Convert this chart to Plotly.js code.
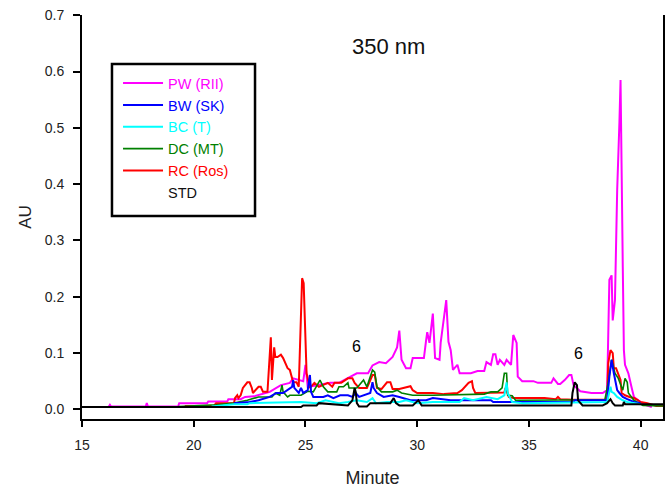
<!DOCTYPE html>
<html>
<head>
<meta charset="utf-8">
<script src="https://cdn.plot.ly/plotly-3.0.1.min.js"></script>
<style>html,body{margin:0;padding:0;background:#fff;}#chart{width:669px;height:496px;}</style>
</head>
<body>
<div id="chart"></div>
<script>
// Series names (legend text)
const seriesNames = ["PW (RII)", "BW (SK)", "BC (T)", "DC (MT)", "RC (Ros)", "STD"];

// [minute, AU] pairs
const pwPoints = [[16.2,0.005],[16.25,0.008],[16.3,0.005],[16.7,0.005],[17.85,0.005],[17.9,0.011],[17.95,0.005],[19.3,0.005],[19.35,0.011],[20.6,0.011],[20.65,0.014],[21.5,0.014],[21.55,0.018],[22.1,0.018],[22.3,0.022],[22.7,0.023],[23.4,0.031],[23.9,0.043],[24.3,0.047],[24.45,0.055],[24.9,0.05],[25.0,0.079],[25.1,0.04],[25.4,0.042],[26.1,0.047],[26.5,0.047],[26.9,0.055],[27.3,0.064],[27.8,0.064],[28.0,0.078],[28.3,0.084],[28.6,0.082],[28.9,0.093],[29.1,0.11],[29.2,0.14],[29.3,0.088],[29.5,0.073],[29.7,0.073],[29.8,0.091],[30.3,0.091],[30.4,0.123],[30.45,0.137],[30.55,0.118],[30.7,0.17],[30.8,0.091],[31.0,0.088],[31.05,0.118],[31.3,0.194],[31.4,0.12],[31.5,0.105],[31.6,0.07],[31.8,0.079],[31.9,0.064],[32.4,0.064],[32.7,0.068],[33.0,0.068],[33.1,0.084],[33.3,0.079],[33.4,0.098],[33.5,0.098],[33.6,0.079],[33.7,0.088],[33.9,0.079],[34.0,0.088],[34.2,0.079],[34.3,0.132],[34.45,0.118],[34.5,0.058],[34.7,0.05],[35.2,0.05],[35.4,0.047],[36.0,0.047],[36.1,0.055],[36.3,0.045],[36.4,0.045],[36.6,0.052],[36.8,0.061],[36.9,0.061],[37.0,0.043],[37.3,0.032],[37.8,0.029],[38.3,0.029],[38.5,0.034],[38.6,0.23],[38.7,0.238],[38.75,0.158],[38.85,0.194],[38.95,0.39],[39.05,0.51],[39.1,0.585],[39.2,0.253],[39.25,0.105],[39.3,0.079],[39.45,0.064],[39.6,0.038],[39.7,0.022],[40.0,0.013],[40.2,0.008],[40.5,0.004]];

const bwPoints = [[21.8,0.011],[22.5,0.013],[22.9,0.016],[23.4,0.022],[23.7,0.029],[24.0,0.029],[24.4,0.04],[24.45,0.052],[24.5,0.038],[24.7,0.029],[24.8,0.038],[24.9,0.029],[25.1,0.034],[25.2,0.061],[25.25,0.031],[25.35,0.022],[25.8,0.022],[26.0,0.025],[26.25,0.02],[26.55,0.025],[26.9,0.025],[27.1,0.022],[27.25,0.029],[27.4,0.022],[27.9,0.029],[28.0,0.048],[28.05,0.038],[28.2,0.029],[28.5,0.022],[28.9,0.025],[29.2,0.022],[29.7,0.016],[30.4,0.016],[30.7,0.02],[31.5,0.016],[32.0,0.016],[33.3,0.016],[33.4,0.013],[37.0,0.013],[37.05,0.016],[38.5,0.016],[38.6,0.058],[38.7,0.088],[38.8,0.064],[38.9,0.04],[38.95,0.034],[39.05,0.029],[39.2,0.022],[39.4,0.018],[39.7,0.013],[40.0,0.011]];

const bcPoints = [[20.8,0.005],[21.0,0.006],[21.8,0.009],[22.4,0.009],[22.5,0.011],[24.8,0.013],[25.5,0.011],[25.9,0.016],[26.2,0.013],[26.5,0.011],[26.9,0.013],[27.3,0.016],[27.75,0.013],[28.0,0.02],[28.15,0.011],[28.65,0.013],[29.2,0.013],[29.5,0.016],[30.0,0.011],[30.7,0.013],[31.9,0.013],[32.1,0.02],[32.5,0.016],[33.1,0.022],[33.6,0.018],[33.9,0.025],[34.0,0.048],[34.05,0.029],[34.25,0.013],[34.7,0.011],[38.5,0.013],[38.65,0.04],[38.7,0.031],[38.8,0.029],[38.95,0.022],[39.2,0.016],[39.4,0.013],[39.7,0.011],[40.0,0.009]];

const dcPoints = [[19.3,0.005],[20.0,0.006],[21.0,0.008],[21.8,0.011],[22.4,0.016],[22.9,0.022],[23.5,0.022],[23.65,0.029],[23.85,0.025],[23.95,0.043],[24.0,0.031],[24.2,0.022],[24.3,0.025],[24.8,0.025],[25.1,0.032],[25.35,0.031],[25.65,0.052],[25.8,0.04],[26.0,0.031],[26.4,0.031],[26.5,0.04],[26.7,0.04],[26.9,0.047],[26.95,0.038],[27.3,0.038],[27.6,0.052],[27.75,0.04],[28.0,0.07],[28.1,0.066],[28.2,0.04],[28.4,0.031],[28.9,0.031],[29.1,0.034],[29.3,0.029],[29.8,0.025],[30.7,0.025],[33.0,0.027],[33.3,0.031],[33.6,0.031],[33.8,0.038],[33.9,0.064],[34.0,0.064],[34.05,0.025],[34.25,0.024],[34.4,0.016],[38.4,0.017],[38.55,0.048],[38.7,0.088],[38.85,0.064],[39.0,0.055],[39.2,0.034],[39.3,0.055],[39.4,0.048],[39.45,0.029],[39.7,0.016],[40.1,0.007],[41.0,0.006]];

const rcPoints = [[19.6,0.006],[20.9,0.006],[21.0,0.011],[21.8,0.011],[21.85,0.02],[21.95,0.025],[22.0,0.02],[22.1,0.025],[22.2,0.038],[22.4,0.048],[22.5,0.048],[22.6,0.038],[22.65,0.029],[22.9,0.04],[23.0,0.04],[23.1,0.031],[23.3,0.031],[23.4,0.093],[23.45,0.128],[23.5,0.052],[23.6,0.11],[23.65,0.093],[23.75,0.093],[23.9,0.097],[24.0,0.091],[24.2,0.073],[24.3,0.07],[24.45,0.048],[24.6,0.048],[24.7,0.04],[24.8,0.15],[24.85,0.233],[24.92,0.224],[25.0,0.105],[25.05,0.064],[25.2,0.038],[25.4,0.047],[25.6,0.04],[25.9,0.045],[26.0,0.047],[26.2,0.04],[26.3,0.047],[26.6,0.047],[26.9,0.055],[27.1,0.055],[27.2,0.047],[27.4,0.038],[27.75,0.038],[28.0,0.061],[28.1,0.061],[28.2,0.038],[28.4,0.036],[28.65,0.048],[28.8,0.048],[28.9,0.036],[29.2,0.036],[29.7,0.041],[29.8,0.034],[30.0,0.029],[30.7,0.029],[31.2,0.027],[31.8,0.029],[32.0,0.034],[32.1,0.038],[32.3,0.047],[32.45,0.05],[32.5,0.038],[32.6,0.029],[33.9,0.03],[33.95,0.038],[34.1,0.022],[34.3,0.02],[35.7,0.02],[36.2,0.018],[36.3,0.022],[36.4,0.018],[37.0,0.017],[38.4,0.017],[38.5,0.018],[38.55,0.082],[38.65,0.105],[38.75,0.1],[38.8,0.073],[38.9,0.073],[39.0,0.061],[39.1,0.052],[39.15,0.029],[39.3,0.025],[39.5,0.022],[39.7,0.02],[39.85,0.017],[40.0,0.013],[40.3,0.011],[40.7,0.006],[41.0,0.006]];

const stdPoints = [[15.0,0.004],[24.8,0.004],[24.9,0.007],[25.5,0.007],[25.6,0.011],[26.9,0.007],[27.1,0.016],[27.2,0.038],[27.25,0.031],[27.3,0.011],[27.4,0.005],[27.75,0.005],[27.9,0.011],[28.8,0.011],[28.95,0.02],[29.05,0.011],[29.2,0.007],[29.8,0.007],[30.05,0.016],[30.2,0.007],[36.9,0.007],[36.95,0.029],[37.05,0.048],[37.15,0.043],[37.2,0.016],[37.4,0.007],[38.3,0.007],[38.5,0.011],[38.65,0.018],[38.75,0.011],[38.85,0.007],[39.2,0.007],[39.25,0.013],[39.3,0.009],[41.0,0.009]];

// Axis ticks
const xTicks = [15, 20, 25, 30, 35, 40];
const yTicks = [0.0, 0.1, 0.2, 0.3, 0.4, 0.5, 0.6, 0.7];

// Peak labels
const peakLabels = [{t: 27.3, v: 0.112, text: "6"}, {t: 37.2, v: 0.1, text: "6"}];

const colors = {PW: "#ff00ff", BW: "#0000ff", BC: "#00ffff", DC: "#008000", RC: "#ff0000", STD: "#000000"};

function mk(points, name, color, width, rank) {
  return {
    type: "scatter", mode: "lines",
    x: points.map(p => p[0]), y: points.map(p => p[1]),
    name: '<span style="color:' + color + '">' + name + '</span>',
    legendgroup: name, legendrank: rank,
    line: {color: color, width: width},
    hoverinfo: "skip"
  };
}

const traces = [
  mk(pwPoints, seriesNames[0], colors.PW, 2, 1),
  mk(rcPoints, seriesNames[4], colors.RC, 2, 5),
  mk(dcPoints, seriesNames[3], colors.DC, 1.6, 4),
  mk(bwPoints, seriesNames[1], colors.BW, 2, 2),
  mk(bcPoints, seriesNames[2], colors.BC, 2, 3),
  Object.assign(mk(stdPoints, seriesNames[5], colors.STD, 2, 6), {showlegend: false}),
  {type: "scatter", mode: "lines", x: [null], y: [null], name: seriesNames[5],
   legendgroup: "stdlegend", legendrank: 6, line: {color: "rgba(0,0,0,0)", width: 0}, hoverinfo: "skip"}
];

const font = "Arial, 'Liberation Sans', sans-serif";

const layout = {
  width: 669, height: 496,
  margin: {l: 82, r: 6, t: 15, b: 77, pad: 0},
  paper_bgcolor: "#fff", plot_bgcolor: "#fff",
  font: {family: font, color: "#111", size: 14},
  showlegend: true,
  legend: {
    x: 0.062, y: 0.871, xanchor: "left", yanchor: "top",
    bgcolor: "rgba(0,0,0,0)", borderwidth: 0,
    font: {family: font, size: 14.5},
    traceorder: "grouped", tracegroupgap: 0,
    itemwidth: 40
  },
  xaxis: {
    range: [15, 41], tickvals: xTicks, ticktext: xTicks.map(String),
    showgrid: false, zeroline: false,
    showline: true, linecolor: "#000", linewidth: 2,
    ticks: "outside", ticklen: 6, tickwidth: 2, tickcolor: "#000",
    tickfont: {family: font, size: 14, color: "#222"},
    ticklabelstandoff: 6,
    title: {text: "Minute", font: {family: font, size: 18, color: "#222"}, standoff: 20},
    automargin: false
  },
  yaxis: {
    range: [-0.0172, 0.7005], tickvals: yTicks, ticktext: yTicks.map(v => v.toFixed(1)),
    showgrid: false, zeroline: false,
    showline: true, mirror: true, linecolor: "#000", linewidth: 2,
    ticks: "outside", ticklen: 7, tickwidth: 2, tickcolor: "#000",
    tickfont: {family: font, size: 14, color: "#222"},
    ticklabelstandoff: 6,
    title: {text: "AU", font: {family: font, size: 17, color: "#222"}, standoff: 9},
    automargin: false
  },
  shapes: [
    {type: "line", xref: "paper", yref: "paper", x0: 0, x1: 0, y0: 0, y1: -6/404, line: {color: "#000", width: 2}},
    {type: "rect", xref: "paper", yref: "paper", x0: 0.0516, x1: 0.2978, y0: 0.5025, y1: 0.8787,
     line: {color: "#000", width: 2.5}, fillcolor: "#fff", layer: "above"}
  ],
  annotations: [
    {xref: "paper", yref: "paper", x: 0.527, y: 0.923, text: "350 nm", showarrow: false,
     font: {family: font, size: 22, color: "#111"}, xanchor: "center", yanchor: "middle"}
  ].concat(peakLabels.map(p => ({
    xref: "x", yref: "y", x: p.t, y: p.v, text: p.text, showarrow: false,
    font: {family: font, size: 16, color: "#000"}, xanchor: "center", yanchor: "middle"
  })))
};

Plotly.newPlot("chart", traces, layout, {displayModeBar: false, staticPlot: true});
</script>
</body>
</html>
